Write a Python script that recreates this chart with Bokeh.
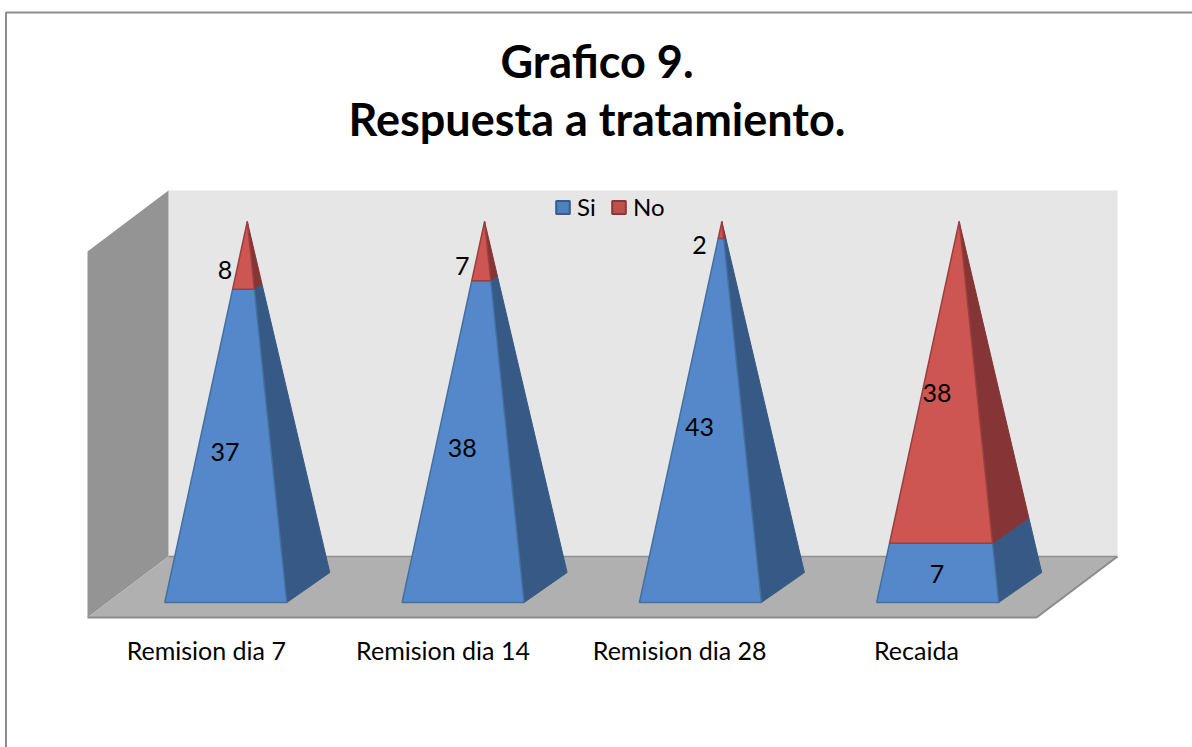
from bokeh.plotting import figure
from bokeh.models import Range1d, Legend, LegendItem
from bokeh.core.properties import value
from bokeh.embed import file_html
from bokeh.resources import INLINE

categories = ["Remision dia 7", "Remision dia 14", "Remision dia 28", "Recaida"]
si = [37, 38, 43, 7]
no = [8, 7, 2, 38]
title_lines = ["Grafico 9.", "Respuesta a tratamiento."]

W, H = 1192, 747
FONT = "Lato"
# pixel calibration of the oblique projection
X0, DX = 225.3, 237.3      # front centre of first pyramid, spacing
Y0, DY = 602.0, 3.81       # base line, pixels per percent
p = figure(width=W, height=H, output_backend="svg", toolbar_location=None,
           x_range=Range1d(-X0 / DX, (W - X0) / DX),
           y_range=Range1d(-(H - Y0) / DY, Y0 / DY),
           x_axis_location=None, y_axis_location=None,
           min_border=0, min_border_left=0, min_border_right=0,
           min_border_top=0, min_border_bottom=0,
           outline_line_color=None, background_fill_color="white",
           border_fill_color="white")
p.grid.visible = False


def ux(px):
    return px / DX


def uy(px):
    return px / DY


# chart box, expressed relative to the category / percent scales
left = ux(87 - X0)
right = ux(1036 - X0)
front = uy(602 - 617)
depth_x, depth_y = ux(81), uy(61)
wall_top = uy(602 - 190)

p.patch([left + depth_x, right + depth_x, right + depth_x, left + depth_x],
        [front + depth_y, front + depth_y, wall_top, wall_top], fill_color="#e6e6e6", line_color=None)
p.patch([left, left + depth_x, left + depth_x, left],
        [front, front + depth_y, wall_top, wall_top - depth_y], fill_color="#949494", line_color=None)
p.patch([left, right, right + depth_x, left + depth_x],
        [front, front, front + depth_y, front + depth_y], fill_color="#b0b0b0", line_color=None)
p.line([left + depth_x, right + depth_x], [front + depth_y] * 2, line_color="#8f8f8f", line_width=1.5)
p.line([left, right, right + depth_x], [front, front, front + depth_y], line_color="#8c8c8c", line_width=2)

# pyramid shape
half_w = ux(61)
py_dx, py_dy = ux(43), uy(30)
apex_dx = ux(21.5)
TOP = 100.0


def corner(i, cx, cy, f):
    ax, ay = i + apex_dx, TOP
    return i + cx + f * (ax - i - cx), cy + f * (ay - cy)


def build(f0s, f1s):
    fx, fy, sx, sy = [], [], [], []
    for i, (a, b) in enumerate(zip(f0s, f1s)):
        c = [corner(i, -half_w, 0, a), corner(i, half_w, 0, a), corner(i, half_w, 0, b), corner(i, -half_w, 0, b)]
        fx.append([q[0] for q in c])
        fy.append([q[1] for q in c])
        d = [corner(i, half_w, 0, a), corner(i, half_w + py_dx, py_dy, a),
             corner(i, half_w + py_dx, py_dy, b), corner(i, half_w, 0, b)]
        sx.append([q[0] for q in d])
        sy.append([q[1] for q in d])
    return fx, fy, sx, sy


totals = [a + b for a, b in zip(si, no)]
f_si = [a / t for a, t in zip(si, totals)]
zeros = [0.0] * len(si)
ones = [1.0] * len(si)

fx, fy, sx, sy = build(zeros, f_si)
p.patches(sx, sy, fill_color="#365a85", line_color="#365a85", line_width=1)
p.patches(fx, fy, fill_color="#5588cb", line_color="#44709f", line_width=1.5)
fx, fy, sx, sy = build(f_si, ones)
p.patches(sx, sy, fill_color="#853535", line_color="#853535", line_width=1)
p.patches(fx, fy, fill_color="#cd5653", line_color="#9a3f3d", line_width=1.5)

# legend keys
k_si = p.patches(xs=[[]], ys=[[]], fill_color="#4f81bd", line_color="#385d8a", line_width=2)
k_no = p.patches(xs=[[]], ys=[[]], fill_color="#c0504d", line_color="#8c3836", line_width=2)

# data labels
idx = list(range(len(si)))
lab_x = [i - ux(0.8) for i in idx]
si_y = [0.48 * TOP * f + uy(0.5) for f in f_si]
no_y = [TOP * f + 0.516 * TOP * (1 - f) - uy(15.5) for f in f_si]
for ys, vals in ((si_y, si), (no_y, no)):
    p.text(lab_x, ys, text=[str(v) for v in vals], text_font=value(FONT), text_font_size="25px",
           text_align="center", text_baseline="middle", text_color="black")

# category labels
label_step = 236.7 / DX
p.text([i * label_step - ux(19.5) for i in idx], [uy(602 - 649.5)] * 4, text=categories, text_font=value(FONT),
       text_font_size="25px", text_align="center", text_baseline="middle", text_color="black")

# title
cx_title = ux(596.5 - X0)
p.text([cx_title, cx_title], [uy(602 - 60), uy(602 - 118.5)], text=title_lines, text_font=value(FONT),
       text_font_size="45px", text_font_style="bold", text_align="center", text_baseline="middle",
       text_color="black")

# figure border
p.line([ux(5.5 - X0)] * 2 + [ux(1192 - X0)], [uy(602 - 747), uy(602 - 12), uy(602 - 12)],
       line_color="#8c8c8c", line_width=2)

legend = Legend(items=[LegendItem(label="Si", renderers=[k_si]), LegendItem(label="No", renderers=[k_no])],
                orientation="horizontal", location=(548, 747 - 227), background_fill_alpha=0,
                border_line_alpha=0, label_text_font=FONT, label_text_font_size="24px",
                glyph_width=17, glyph_height=16, spacing=13, padding=6, margin=0,
                label_standoff=6, label_text_color="black")
p.add_layout(legend, "center")

open("out.html", "w").write(file_html(p, INLINE))
